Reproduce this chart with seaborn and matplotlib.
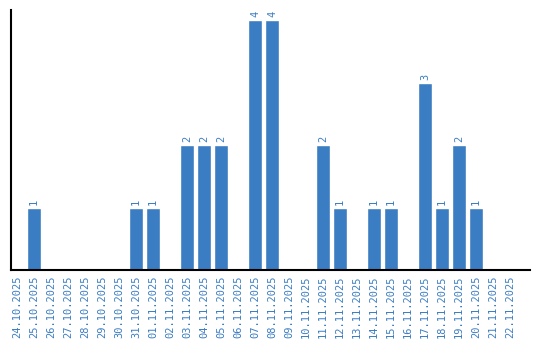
import matplotlib
matplotlib.use("Agg")
import matplotlib.pyplot as plt
import seaborn as sns
import pandas as pd

dates = ["24.10.2025", "25.10.2025", "26.10.2025", "27.10.2025", "28.10.2025",
         "29.10.2025", "30.10.2025", "31.10.2025", "01.11.2025", "02.11.2025",
         "03.11.2025", "04.11.2025", "05.11.2025", "06.11.2025", "07.11.2025",
         "08.11.2025", "09.11.2025", "10.11.2025", "11.11.2025", "12.11.2025",
         "13.11.2025", "14.11.2025", "15.11.2025", "16.11.2025", "17.11.2025",
         "18.11.2025", "19.11.2025", "20.11.2025", "21.11.2025", "22.11.2025"]
counts = [0, 1, 0, 0, 0, 0, 0, 1, 1, 0,
          2, 2, 2, 0, 4, 4, 0, 0, 2, 1,
          0, 1, 1, 0, 3, 1, 2, 1, 0, 0]

color = "#3b7dc2"
sns.set_style("white")
plt.rcParams['font.family'] = ['DejaVu Sans Mono', 'DejaVu Sans']

df = pd.DataFrame({"date": dates, "count": counts})
fig = plt.figure(figsize=(5.4, 3.4), dpi=100)
ax = fig.add_axes([11/540, 70/340, 519/540, 260/340])
sns.barplot(data=df, x="date", y="count", color=color, saturation=1, width=0.82, ax=ax)

for i, v in enumerate(counts):
    if v > 0:
        ax.annotate(str(v), (i, v), xytext=(0, 2), textcoords="offset points",
                    rotation=90, ha="center", va="bottom", color=color, fontsize=7.5)

ax.set_xlim(-0.35, 30.18)
ax.set_ylim(0, 4.16)
ax.set_xlabel("")
ax.set_ylabel("")
ax.set_yticks([])
ax.set_xticks(range(len(dates)))
ax.set_xticklabels(dates, rotation=90, color=color, fontsize=7.5)
ax.tick_params(axis="x", length=0, pad=4)
for s in ["top", "right"]:
    ax.spines[s].set_visible(False)
for s in ["left", "bottom"]:
    ax.spines[s].set_color("black")
    ax.spines[s].set_linewidth(1.5)

fig.savefig("out.png", dpi=100)
